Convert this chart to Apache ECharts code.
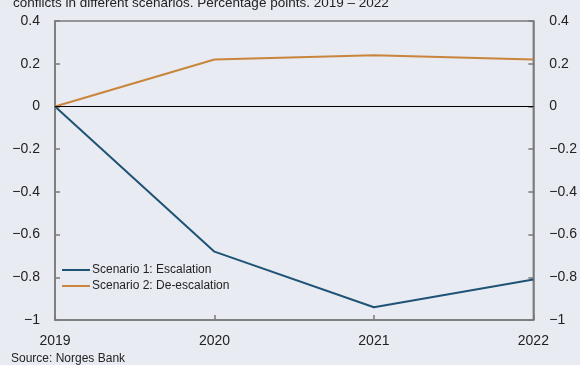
<!DOCTYPE html>
<html>
<head>
<meta charset="utf-8">
<script src="https://cdn.jsdelivr.net/npm/echarts@6/dist/echarts.min.js"></script>
<style>
  html, body { margin: 0; padding: 0; background: #e8ebf2; }
  #chart { width: 580px; height: 365px; }
</style>
</head>
<body>
<div id="chart"></div>
<script>
// Years on the horizontal axis
const years = ['2019', '2020', '2021', '2022'];
// Deviation from baseline, percentage points
const escalation = [0, -0.68, -0.94, -0.81];
const deEscalation = [0, 0.22, 0.24, 0.22];
const seriesNames = ['Scenario 1: Escalation', 'Scenario 2: De-escalation'];
const titleText = 'conflicts in different scenarios. Percentage points. 2019 \u2013 2022';
const sourceText = 'Source: Norges Bank';

const axisGray = '#7a7a7a';
const textColor = '#222';
const fontFamily = '"Liberation Sans", Arial, sans-serif';

function fmt(v) {
  const r = Math.round(v * 10) / 10;
  if (r === 0) return '0';
  return String(r).replace('-', '\u2212');
}

function yAxisCfg(pos) {
  return {
    type: 'value',
    position: pos,
    min: -1,
    max: 0.4,
    interval: 0.2,
    axisLine: { show: true, lineStyle: { color: axisGray, width: 1.5 } },
    axisTick: { show: true, inside: true, length: 5, lineStyle: { color: axisGray, width: 1.5 } },
    splitLine: { show: false },
    axisLabel: {
      formatter: fmt,
      color: textColor,
      fontSize: 14,
      fontFamily: fontFamily,
      margin: pos === 'left' ? 15 : 16
    }
  };
}

const chart = echarts.init(document.getElementById('chart'));
chart.setOption({
  backgroundColor: '#e8ebf2',
  animation: false,
  grid: { left: 55, right: 45, top: 21, bottom: 45, show: true, borderColor: axisGray, borderWidth: 1.5, backgroundColor: 'transparent' },
  title: [
    { text: titleText, left: 8, top: -9, textStyle: { fontSize: 13.5, fontWeight: 'normal', color: textColor, fontFamily: fontFamily } },
    { text: sourceText, left: 6, top: 348, textStyle: { fontSize: 12, fontWeight: 'normal', color: textColor, fontFamily: fontFamily } }
  ],
  legend: {
    orient: 'vertical',
    left: 57,
    top: 259,
    itemWidth: 28,
    itemHeight: 2,
    itemGap: 4,
    icon: 'rect',
    data: seriesNames,
    textStyle: { fontSize: 12, color: textColor, fontFamily: fontFamily, padding: [0, 0, 0, -3] }
  },
  xAxis: {
    type: 'category',
    data: years,
    boundaryGap: false,
    axisLine: { show: true, onZero: false, lineStyle: { color: axisGray, width: 1.5 } },
    axisTick: { show: true, inside: true, length: 5, lineStyle: { color: axisGray, width: 1.5 } },
    axisLabel: { color: textColor, fontSize: 14, fontFamily: fontFamily, margin: 14 }
  },
  yAxis: [yAxisCfg('left'), yAxisCfg('right')],
  series: [
    {
      name: seriesNames[0],
      type: 'line',
      data: escalation,
      symbol: 'none',
      color: '#1f5375',
      lineStyle: { width: 2 },
      markLine: {
        silent: true,
        symbol: 'none',
        label: { show: false },
        lineStyle: { color: '#000', width: 1, type: 'solid' },
        data: [{ yAxis: 0 }]
      },
      z: 3
    },
    {
      name: seriesNames[1],
      type: 'line',
      data: deEscalation,
      symbol: 'none',
      color: '#c8853b',
      lineStyle: { width: 2 },
      z: 3
    }
  ]
});
</script>
</body>
</html>
